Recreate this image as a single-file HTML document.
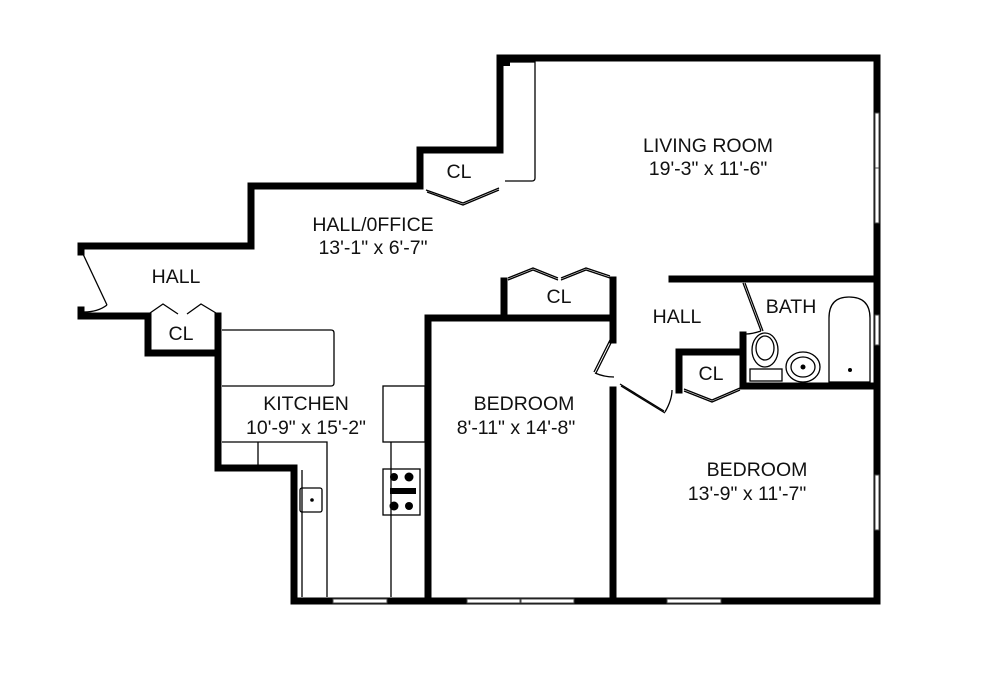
<!DOCTYPE html>
<html><head><meta charset="utf-8"><style>
html,body{margin:0;padding:0;background:#fff}
svg{display:block}
text{font-family:"Liberation Sans",sans-serif;font-size:19.5px;fill:#111;text-anchor:middle}
</style></head><body>
<svg width="993" height="679" viewBox="0 0 993 679" xmlns="http://www.w3.org/2000/svg">
<g fill="none" stroke="#000" stroke-width="7" stroke-linecap="square">
<polyline points="81,246 81,252"/>
<polyline points="81,310 81,316 148,316"/>
<polyline points="81,246 251,246 251,186 420,186 420,150 500,150 500,58 877,58 877,601 294,601 294,468 218,468 218,316"/>
<polyline points="148,316 148,353 218,353"/>
<polyline points="672,279 877,279"/>
<polyline points="428,601 428,318 613,318 613,340"/>
<polyline points="613,390 613,601"/>
<polyline points="504,281 504,318"/>
<polyline points="613,280 613,318"/>
<polyline points="743,386 877,386"/>
<polyline points="743,335 743,386"/>
<polyline points="679,390 679,352 743,352"/>
</g>
<g fill="#fff" stroke="#444" stroke-width="1">
<rect x="333" y="599" width="54" height="4"/>
<rect x="467" y="599" width="53" height="4"/>
<rect x="521" y="599" width="53" height="4"/>
<rect x="667" y="599" width="54" height="4"/>
<rect x="875" y="113" width="4" height="55"/>
<rect x="875" y="168" width="4" height="55"/>
<rect x="875" y="315" width="4" height="30"/>
<rect x="875" y="475" width="4" height="55"/>
</g>
<g fill="none" stroke="#000" stroke-width="1.3">
<polyline points="83,254 107,305"/><path d="M107,305 Q98,312 84,312"/>
<polyline points="150,313 163,304 178,314"/><polyline points="187,314 201,304 216,313"/>
<polyline points="426,190 463,203 499,188"/><polyline points="427,192 463,205 499,190"/>
<path d="M505,62 H535 V178 Q535,181 532,181 H505"/>
<path d="M222,330 H331 Q334,330 334,333 V383 Q334,386 331,386 H222"/>
<path d="M222,442 H327 V597"/><line x1="258" y1="442" x2="258" y2="470"/>
<line x1="302" y1="470" x2="302" y2="597"/>
<rect x="300" y="488" width="22" height="24" rx="2"/>
<rect x="383" y="386" width="42" height="56"/>
<line x1="391" y1="442" x2="391" y2="597"/>
<rect x="383" y="469" width="37" height="46"/>
<polyline points="508,278 533,268 558,278"/><polyline points="508,280 533,270 558,280"/>
<polyline points="561,278 586,268 610,276"/><polyline points="561,280 586,270 610,278"/>
<polyline points="611,338 594,372"/><polyline points="613,339 596,373"/><path d="M595,373 Q604,377 614,377"/>
<polyline points="620,384 664,411"/><polyline points="621,386 665,413"/><path d="M665,412 Q672,400 672,390"/>
<polyline points="684,389 712,400 740,388"/><polyline points="684,391 712,402 740,390"/>
<polyline points="743,283 761,331"/><polyline points="745,283 763,331"/><path d="M761,331 Q752,334 746,334"/>
<ellipse cx="765" cy="350" rx="13" ry="17"/><ellipse cx="765" cy="348" rx="9" ry="12"/>
<rect x="750" y="369" width="32" height="12"/>
<ellipse cx="803" cy="367" rx="17" ry="15"/><ellipse cx="803" cy="367" rx="12" ry="10"/>
<path d="M829,382 V318 Q829,297 849,297 Q870,297 870,318 V382 Z"/>
</g>
<g fill="#000">
<circle cx="312" cy="500" r="1.8"/><circle cx="803" cy="367" r="2.5"/><circle cx="850" cy="370" r="2"/>
<rect x="390" y="488" width="26" height="6"/>
<circle cx="394" cy="477" r="4"/><circle cx="409" cy="477" r="4.5"/>
<circle cx="394" cy="506" r="4.5"/><circle cx="409" cy="506" r="4"/>
<rect x="498" y="58" width="12" height="8"/>
</g>
<text x="176" y="283">HALL</text>
<text x="181" y="340">CL</text>
<text x="459" y="178">CL</text>
<text x="373" y="231">HALL/0FFICE</text>
<text x="373" y="254">13'-1" x 6'-7"</text>
<text x="708" y="152">LIVING ROOM</text>
<text x="708" y="175">19'-3" x 11'-6"</text>
<text x="559" y="303">CL</text>
<text x="677" y="323">HALL</text>
<text x="791" y="313">BATH</text>
<text x="711" y="380">CL</text>
<text x="306" y="410">KITCHEN</text>
<text x="306" y="434">10'-9" x 15'-2"</text>
<text x="524" y="410">BEDROOM</text>
<text x="516" y="434">8'-11" x 14'-8"</text>
<text x="757" y="476">BEDROOM</text>
<text x="747" y="500">13'-9" x 11'-7"</text>
</svg>
</body></html>
